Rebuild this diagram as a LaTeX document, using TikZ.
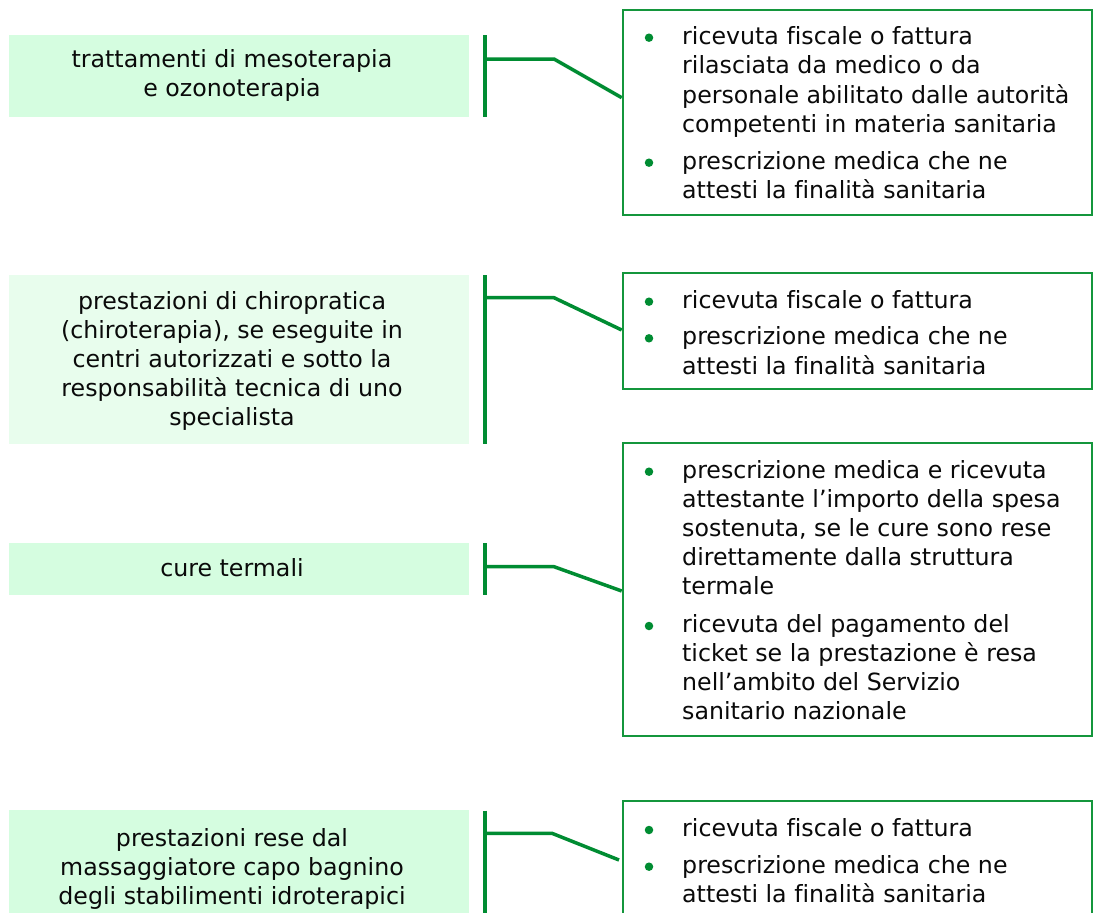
\documentclass[tikz,border=0pt]{standalone}
\usepackage{fontspec}
\setmainfont{DejaVu Sans}[Ligatures=NoCommon]
\definecolor{gline}{RGB}{0,140,50}
\definecolor{gborder}{RGB}{20,150,60}
\definecolor{gfill}{RGB}{213,253,224}
\definecolor{gfillb}{RGB}{232,253,237}
\definecolor{ink}{RGB}{10,10,10}
\begin{document}
\begin{tikzpicture}[x=1pt,y=-1pt,
  font=\fontsize{23.7}{29}\selectfont,
  lbox/.style={fill=gfill, draw=none, inner sep=0pt, minimum width=460pt},
  rbox/.style={draw=gborder, line width=2pt, inner sep=0pt, minimum width=469.3pt},
  conn/.style={draw=gline, line width=3.5pt},
  txt/.style={anchor=base west, inner sep=0pt, text=ink},
  ctxt/.style={anchor=base, inner sep=0pt, text=ink},
  dot/.style={circle, fill=gline, inner sep=0pt, minimum size=8.5pt}]
\useasboundingbox (0,0) rectangle (1093,913);
\clip (0,0) rectangle (1093,913);
\fill[white] (0,0) rectangle (1093,913);

% ---------- left boxes ----------
\node[lbox, minimum height=81.7pt] (L1) at (239,75.85) {};
\node[lbox, fill=gfillb, minimum height=169.3pt] (L2) at (239,359.65) {};
\node[lbox, minimum height=51.7pt] (L3) at (239,569.15) {};
\node[lbox, minimum height=120pt] (L4) at (239,870) {};

\node[ctxt] (l1a) at (232,67.8) {trattamenti di mesoterapia};
\node[ctxt] (l1b) at (232,96.8) {e ozonoterapia};

\node[ctxt] (l2a) at (232,309.8) {prestazioni di chiropratica};
\node[ctxt] (l2b) at (232,338.6) {(chiroterapia), se eseguite in};
\node[ctxt] (l2c) at (232,367.4) {centri autorizzati e sotto la};
\node[ctxt] (l2d) at (232,396.2) {responsabilità tecnica di uno};
\node[ctxt] (l2e) at (232,425) {specialista};

\node[ctxt] (l3a) at (232,576) {cure termali};

\node[ctxt] (l4a) at (232,846.5) {prestazioni rese dal};
\node[ctxt] (l4b) at (232,875.5) {massaggiatore capo bagnino};
\node[ctxt] (l4c) at (232,904.5) {degli stabilimenti idroterapici};

% ---------- right boxes ----------
\node[rbox, minimum height=205pt] (R1) at (857.35,112.5) {};
\node[rbox, minimum height=116pt] (R2) at (857.35,331.3) {};
\node[rbox, minimum height=292.4pt] (R3) at (857.35,589.5) {};
\node[rbox, minimum height=130pt] (R4) at (857.35,866) {};

% box 1
\node[dot] (d11) at (649,37.7) {};
\node[txt] (r1a) at (682,44.5) {ricevuta fiscale o fattura};
\node[txt] (r1b) at (682,73.8) {rilasciata da medico o da};
\node[txt] (r1c) at (682,103.1) {personale abilitato dalle autorità};
\node[txt] (r1d) at (682,132.4) {competenti in materia sanitaria};
\node[dot] (d12) at (649,162.7) {};
\node[txt] (r1e) at (682,169.2) {prescrizione medica che ne};
\node[txt] (r1f) at (682,198.5) {attesti la finalità sanitaria};

% box 2
\node[dot] (d21) at (649,301.7) {};
\node[txt] (r2a) at (682,308.2) {ricevuta fiscale o fattura};
\node[dot] (d22) at (649,338.3) {};
\node[txt] (r2b) at (682,344.8) {prescrizione medica che ne};
\node[txt] (r2c) at (682,374) {attesti la finalità sanitaria};

% box 3
\node[dot] (d31) at (649,471.7) {};
\node[txt] (r3a) at (682,478.2) {prescrizione medica e ricevuta};
\node[txt] (r3b) at (682,507.2) {attestante l’importo della spesa};
\node[txt] (r3c) at (682,536.2) {sostenuta, se le cure sono rese};
\node[txt] (r3d) at (682,565.2) {direttamente dalla struttura};
\node[txt] (r3e) at (682,594.2) {termale};
\node[dot] (d32) at (649,626) {};
\node[txt] (r3f) at (682,632.2) {ricevuta del pagamento del};
\node[txt] (r3g) at (682,661.2) {ticket se la prestazione è resa};
\node[txt] (r3h) at (682,690.2) {nell’ambito del Servizio};
\node[txt] (r3i) at (682,719.2) {sanitario nazionale};

% box 4
\node[dot] (d41) at (649,830) {};
\node[txt] (r4a) at (682,836.5) {ricevuta fiscale o fattura};
\node[dot] (d42) at (649,866.7) {};
\node[txt] (r4b) at (682,873.2) {prescrizione medica che ne};
\node[txt] (r4c) at (682,902) {attesti la finalità sanitaria};

% ---------- brackets and connectors ----------
\coordinate (B1t) at (485,35);   \coordinate (B1b) at (485,116.7);
\coordinate (B2t) at (485,275);  \coordinate (B2b) at (485,444.3);
\coordinate (B3t) at (485,543.3);\coordinate (B3b) at (485,595);
\coordinate (B4t) at (485,810.7);\coordinate (B4b) at (485,930);

\coordinate (H1) at (485,59);    \coordinate (K1) at (554,59);
\coordinate (H2) at (485,297.7); \coordinate (K2) at (554,297.7);
\coordinate (H3) at (485,566.7); \coordinate (K3) at (554,566.7);
\coordinate (H4) at (485,833.3); \coordinate (K4) at (552,833.3);

\coordinate (E1) at (R1.west |- 0,97.7);
\coordinate (E2) at (R2.west |- 0,330);
\coordinate (E3) at (R3.west |- 0,591);
\coordinate (E4) at (619,860);

\draw[conn] (B1t) -- (B1b);
\draw[conn] (B2t) -- (B2b);
\draw[conn] (B3t) -- (B3b);
\draw[conn] (B4t) -- (B4b);

\draw[conn] (H1) -- (K1) -- (E1);
\draw[conn] (H2) -- (K2) -- (E2);
\draw[conn] (H3) -- (K3) -- (E3);
\draw[conn] (H4) -- (K4) -- (E4);
\end{tikzpicture}
\end{document}
